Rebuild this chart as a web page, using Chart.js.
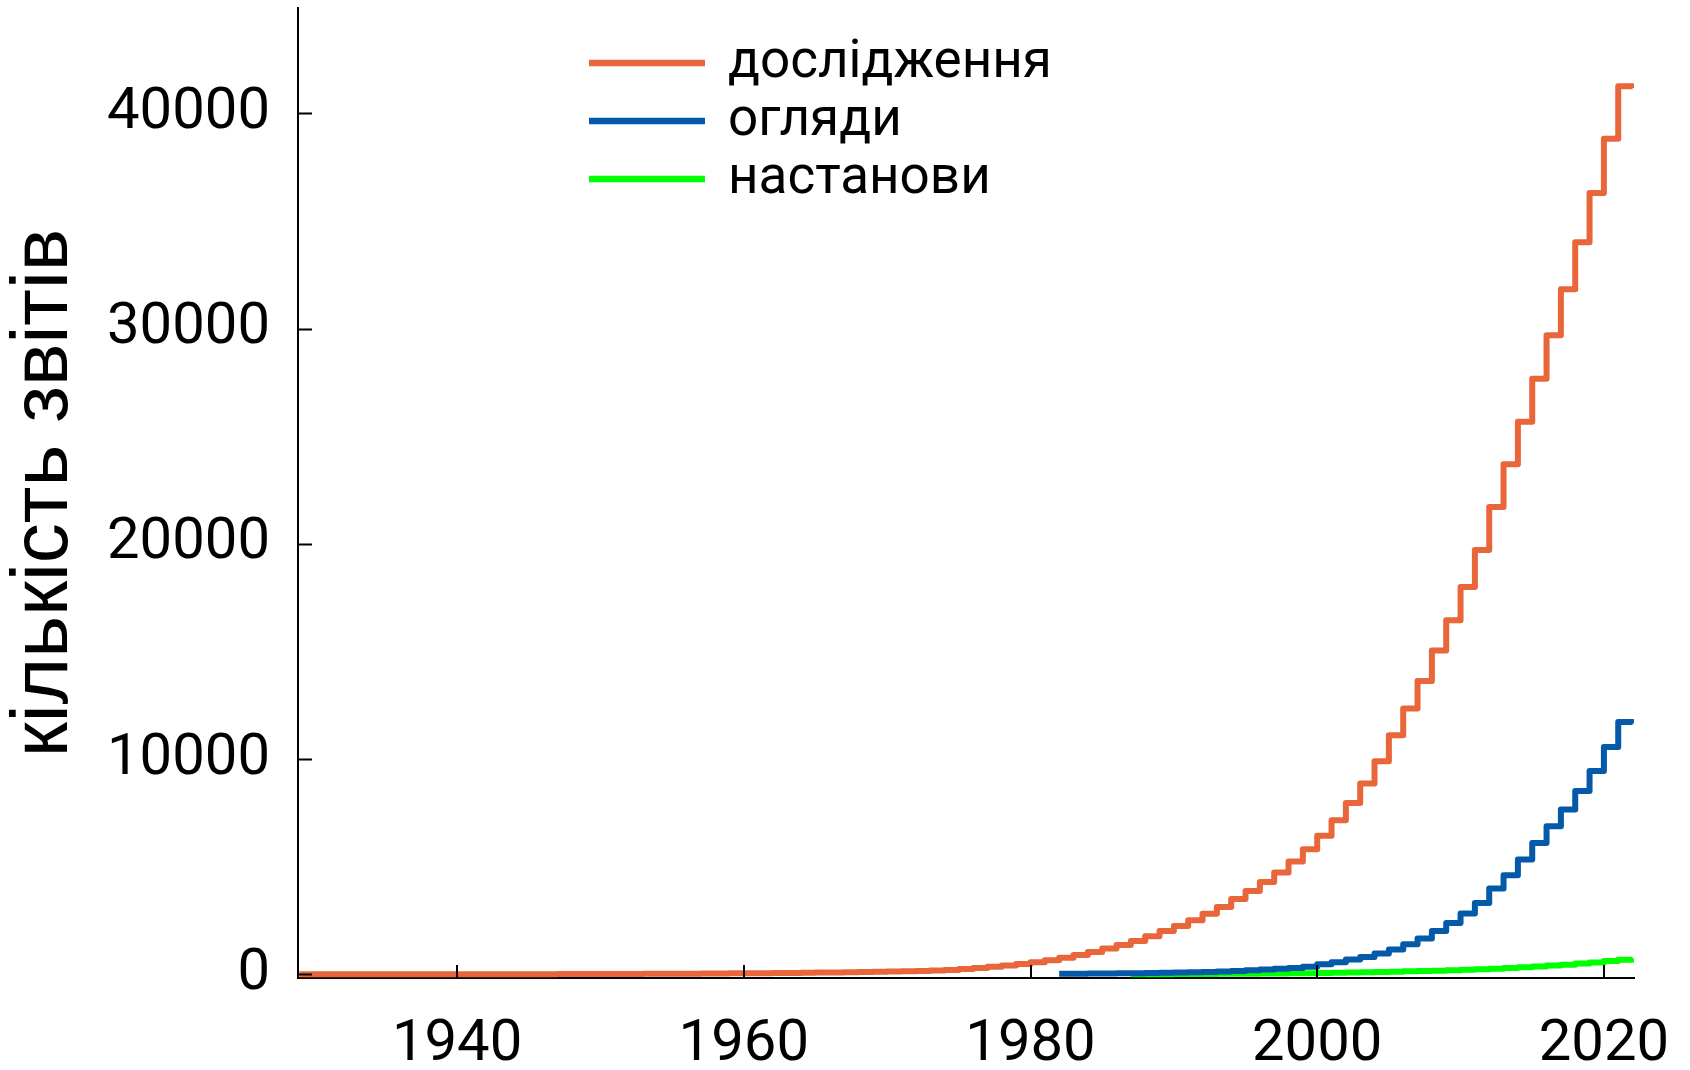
<!DOCTYPE html>
<html>
<head>
<meta charset="UTF-8">
<title>кількість звітів</title>
<style>
  html, body { margin: 0; padding: 0; background: #fff; }
  #wrap { width: 1690px; height: 1070px; }
</style>
</head>
<body>
<div id="wrap"><canvas id="myChart"></canvas></div>

<script src="https://cdn.jsdelivr.net/npm/chart.js@4.4.1/dist/chart.umd.min.js"></script>
<script>
// назви серій і кольори
const names = ['дослідження', 'огляди', 'настанови'];
const colors = ['#e8663a', '#0459a8', '#00ff00'];

// дослідження, 1929..2022
const yearsResearch = [1929, 1930, 1931, 1932, 1933, 1934, 1935, 1936, 1937, 1938,
  1939, 1940, 1941, 1942, 1943, 1944, 1945, 1946, 1947, 1948,
  1949, 1950, 1951, 1952, 1953, 1954, 1955, 1956, 1957, 1958,
  1959, 1960, 1961, 1962, 1963, 1964, 1965, 1966, 1967, 1968,
  1969, 1970, 1971, 1972, 1973, 1974, 1975, 1976, 1977, 1978,
  1979, 1980, 1981, 1982, 1983, 1984, 1985, 1986, 1987, 1988,
  1989, 1990, 1991, 1992, 1993, 1994, 1995, 1996, 1997, 1998,
  1999, 2000, 2001, 2002, 2003, 2004, 2005, 2006, 2007, 2008,
  2009, 2010, 2011, 2012, 2013, 2014, 2015, 2016, 2017, 2018,
  2019, 2020, 2021, 2022];
const research = [0, 0, 0, 1, 1, 1, 2, 2, 3, 3,
  4, 5, 5, 6, 7, 8, 9, 10, 12, 13,
  15, 17, 19, 21, 24, 27, 30, 33, 37, 41,
  45, 50, 55, 60, 66, 72, 80, 88, 97, 107,
  118, 130, 145, 160, 178, 205, 250, 300, 355, 415,
  485, 565, 660, 770, 895, 1040, 1195, 1360, 1550, 1770,
  2010, 2245, 2510, 2820, 3130, 3500, 3875, 4295, 4730, 5240,
  5810, 6440, 7160, 7960, 8865, 9900, 11110, 12350, 13630, 15050,
  16450, 17995, 19715, 21720, 23705, 25670, 27670, 29700, 31830, 34020,
  36305, 38820, 41270, 41180];

// огляди, 1982..2022
const yearsReviews = [1982, 1983, 1984, 1985, 1986, 1987, 1988, 1989, 1990, 1991,
  1992, 1993, 1994, 1995, 1996, 1997, 1998, 1999, 2000, 2001,
  2002, 2003, 2004, 2005, 2006, 2007, 2008, 2009, 2010, 2011,
  2012, 2013, 2014, 2015, 2016, 2017, 2018, 2019, 2020, 2021, 2022];
const reviews = [30, 32, 35, 40, 45, 52, 60, 70, 82, 96,
  112, 132, 155, 185, 220, 260, 300, 350, 470, 565,
  690, 810, 965, 1150, 1400, 1665, 2015, 2390, 2825, 3320,
  3985, 4605, 5335, 6105, 6880, 7655, 8520, 9450, 10565, 11725, 11650];

// настанови, 1987..2022
const yearsGuidelines = [1987, 1988, 1989, 1990, 1991, 1992, 1993, 1994, 1995, 1996,
  1997, 1998, 1999, 2000, 2001, 2002, 2003, 2004, 2005, 2006,
  2007, 2008, 2009, 2010, 2011, 2012, 2013, 2014, 2015, 2016,
  2017, 2018, 2019, 2020, 2021, 2022];
const guidelines = [3, 6, 9, 12, 15, 19, 23, 27, 32, 37,
  43, 49, 56, 64, 73, 83, 95, 108, 122, 138,
  155, 172, 190, 210, 235, 262, 292, 325, 362, 405,
  450, 500, 555, 615, 680, 750];

const xTicks = [1940, 1960, 1980, 2000, 2020];
const yTicks = [0, 10000, 20000, 30000, 40000];

const toPoints = (xs, ys) => xs.map((x, i) => ({ x: x, y: ys[i] }));

const FONT = 'Roboto, "Liberation Sans", sans-serif';

// засічки всередину + легенда в полі графіка
const innerTicks = {
  id: 'innerTicks',
  afterDraw(chart) {
    const ctx = chart.ctx, a = chart.chartArea;
    const sx = chart.scales.x, sy = chart.scales.y;
    ctx.save();
    ctx.strokeStyle = '#000';
    ctx.lineWidth = 2;
    ctx.beginPath();
    yTicks.forEach(v => {
      const y = Math.round(sy.getPixelForValue(v)) + 0.5;
      ctx.moveTo(a.left, y); ctx.lineTo(a.left + 14, y);
    });
    xTicks.forEach(v => {
      const x = Math.round(sx.getPixelForValue(v));
      ctx.moveTo(x, a.bottom); ctx.lineTo(x, a.bottom - 13);
    });
    ctx.stroke();

    // легенда
    ctx.font = '53px ' + FONT;
    ctx.textBaseline = 'alphabetic';
    ctx.textAlign = 'left';
    names.forEach((n, i) => {
      const y = 63 + i * 58;
      ctx.strokeStyle = colors[i];
      ctx.lineWidth = 6.5;
      ctx.beginPath();
      ctx.moveTo(a.left + 291, y); ctx.lineTo(a.left + 407, y);
      ctx.stroke();
      ctx.fillStyle = '#000';
      ctx.fillText(n, a.left + 430, y + 14);
    });
    ctx.restore();
  }
};

const ctx = document.getElementById('myChart').getContext('2d');

new Chart(ctx, {
  type: 'line',
  data: {
    datasets: [
      { label: names[0], data: toPoints(yearsResearch, research), borderColor: colors[0] },
      { label: names[1], data: toPoints(yearsReviews, reviews), borderColor: colors[1] },
      { label: names[2], data: toPoints(yearsGuidelines, guidelines), borderColor: colors[2] }
    ]
  },
  options: {
    responsive: true,
    maintainAspectRatio: false,
    animation: false,
    devicePixelRatio: 1,
    layout: { padding: { top: 8, right: 56, left: 0, bottom: 0 } },
    elements: {
      line: { borderWidth: 6, stepped: 'before', fill: false, borderJoinStyle: 'round' },
      point: { radius: 0, hoverRadius: 0 }
    },
    plugins: { legend: { display: false }, tooltip: { enabled: false } },
    scales: {
      x: {
        type: 'linear',
        min: 1928.9,
        max: 2022.1,
        afterBuildTicks: s => { s.ticks = xTicks.map(v => ({ value: v })); },
        afterFit: s => { s.height = 92; s.paddingLeft = 0; s.paddingRight = 0; },
        border: { display: true, color: '#000', width: 2 },
        grid: { drawOnChartArea: false, drawTicks: false },
        ticks: {
          padding: 33,
          color: '#000',
          font: { family: FONT, size: 58 },
          callback: v => String(v)
        }
      },
      y: {
        min: -170,
        max: 44900,
        afterBuildTicks: s => { s.ticks = yTicks.map(v => ({ value: v })); },
        afterFit: s => { s.width = 298; s.paddingTop = 0; s.paddingBottom = 0; },
        border: { display: true, color: '#000', width: 2 },
        grid: { drawOnChartArea: false, drawTicks: false },
        ticks: {
          padding: 28,
          color: '#000',
          font: { family: FONT, size: 58 },
          callback: v => String(v)
        },
        title: {
          display: true,
          text: 'кількість звітів',
          color: '#000',
          font: { family: '"Liberation Sans", Arial, sans-serif', size: 80, lineHeight: 1 },
          padding: { top: 5, bottom: 0 }
        }
      }
    }
  },
  plugins: [innerTicks]
});
</script>
</body>
</html>
